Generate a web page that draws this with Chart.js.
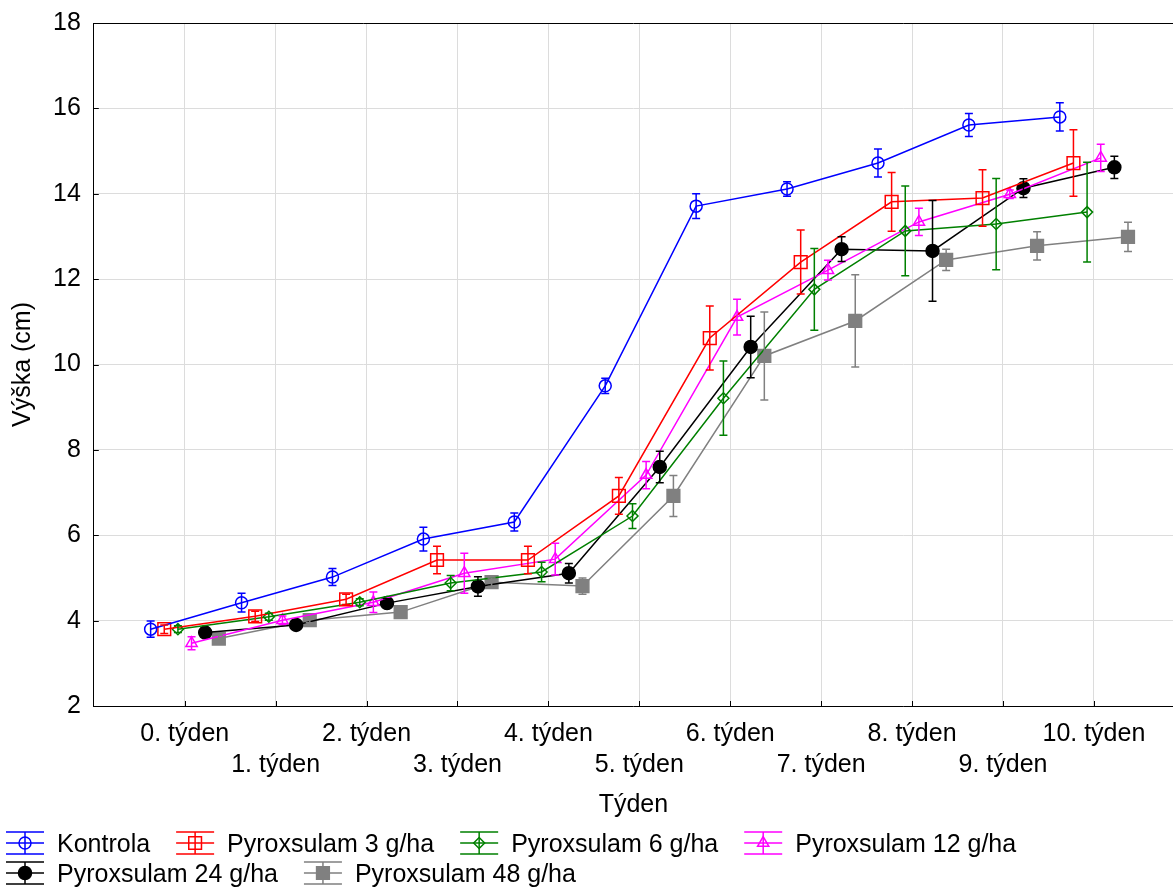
<!DOCTYPE html>
<html>
<head>
<meta charset="utf-8">
<title>Výška rostlin</title>
<script src="https://cdn.jsdelivr.net/npm/chart.js@4.4.1/dist/chart.umd.min.js"></script>
<style>
  html, body { margin: 0; padding: 0; background: #fff; }
  #wrap { width: 1173px; height: 887px; }
</style>
</head>
<body>
<div id="wrap"><canvas id="growthChart"></canvas></div>
<script>
// Weeks (x axis)
const weeks = [0, 1, 2, 3, 4, 5, 6, 7, 8, 9, 10];
const weekLabels = ['0. týden', '1. týden', '2. týden', '3. týden', '4. týden', '5. týden',
                    '6. týden', '7. týden', '8. týden', '9. týden', '10. týden'];
const yTicks = [2, 4, 6, 8, 10, 12, 14, 16, 18];

const seriesNames = ['Kontrola', 'Pyroxsulam 3 g/ha', 'Pyroxsulam 6 g/ha',
                     'Pyroxsulam 12 g/ha', 'Pyroxsulam 24 g/ha', 'Pyroxsulam 48 g/ha'];

// Mean height (cm)
const kontrola = [3.80, 4.42, 5.02, 5.91, 6.31, 9.50, 13.71, 14.11, 14.72, 15.61, 15.80];
const pyr3     = [3.80, 4.10, 4.50, 5.42, 5.42, 6.92, 10.62, 12.40, 13.81, 13.90, 14.72];
const pyr6     = [3.80, 4.09, 4.43, 4.88, 5.14, 6.45, 9.21, 11.76, 13.13, 13.29, 13.57];
const pyr12    = [3.47, 4.01, 4.43, 5.11, 5.44, 7.41, 11.11, 12.21, 13.34, 13.99, 14.84];
const pyr24    = [3.72, 3.90, 4.41, 4.80, 5.11, 7.60, 10.41, 12.70, 12.66, 14.13, 14.62];
const pyr48    = [3.58, 4.01, 4.20, 4.90, 4.81, 6.92, 10.20, 11.02, 12.45, 12.78, 12.99];

// Error bar half-lengths (cm)
const kontrolaErr = [0.19, 0.22, 0.20, 0.28, 0.21, 0.18, 0.29, 0.17, 0.33, 0.27, 0.33];
const pyr3Err     = [0.10, 0.12, 0.12, 0.32, 0.32, 0.43, 0.75, 0.75, 0.69, 0.66, 0.78];
const pyr6Err     = [0.08, 0.08, 0.08, 0.18, 0.23, 0.29, 0.87, 0.96, 1.05, 1.07, 1.17];
const pyr12Err    = [0.15, 0.10, 0.24, 0.47, 0.37, 0.32, 0.42, 0.23, 0.32, 0.10, 0.32];
const pyr24Err    = [0.08, 0.05, 0.10, 0.23, 0.23, 0.37, 0.72, 0.29, 1.18, 0.22, 0.26];
const pyr48Err    = [0.08, 0.06, 0.08, 0.10, 0.19, 0.48, 1.03, 1.08, 0.25, 0.33, 0.34];

const series = [kontrola, pyr3, pyr6, pyr12, pyr24, pyr48];
const errors = [kontrolaErr, pyr3Err, pyr6Err, pyr12Err, pyr24Err, pyr48Err];

// Styling
const FONT = "'Liberation Sans', Arial, sans-serif";
const dodge = [-0.375, -0.225, -0.075, 0.075, 0.225, 0.375];
const styles = [
    { color: '#0000ff', marker: 'circle',   radius: 6,   filled: false },
    { color: '#ff0000', marker: 'rect',     radius: 9,   filled: false },
    { color: '#008000', marker: 'rectRot',  radius: 5.5, filled: false },
    { color: '#ff00ff', marker: 'triangle', radius: 6.5, filled: false },
    { color: '#000000', marker: 'circle',   radius: 6.5, filled: true },
    { color: '#808080', marker: 'rect',     radius: 9,   filled: true }
];

Chart.defaults.font.family = FONT;
Chart.defaults.font.size = 25;
Chart.defaults.color = '#000';

// Vertical error bars with caps, drawn over the lines
const errorBars = {
    id: 'errorBars',
    afterDatasetsDraw(chart) {
        const { ctx, scales: { y } } = chart;
        ctx.save();
        ctx.lineWidth = 1.5;
        chart.data.datasets.forEach((ds, k) => {
            const meta = chart.getDatasetMeta(k);
            ctx.strokeStyle = ds.borderColor;
            meta.data.forEach((pt, i) => {
                const v = ds.data[i].y;
                const e = ds.err[i];
                const top = y.getPixelForValue(v + e);
                const bot = y.getPixelForValue(v - e);
                ctx.beginPath();
                ctx.moveTo(pt.x, top); ctx.lineTo(pt.x, bot);
                ctx.moveTo(pt.x - 4, top); ctx.lineTo(pt.x + 4, top);
                ctx.moveTo(pt.x - 4, bot); ctx.lineTo(pt.x + 4, bot);
                ctx.stroke();
            });
        });
        ctx.restore();
    }
};

// Short tick marks pointing into the plot
const innerTicks = {
    id: 'innerTicks',
    beforeDatasetsDraw(chart) {
        const { ctx, chartArea: a, scales: { x, y } } = chart;
        ctx.save();
        ctx.strokeStyle = '#000';
        ctx.lineWidth = 1;
        ctx.beginPath();
        x.ticks.forEach(t => {
            const px = Math.round(x.getPixelForValue(t.value)) + 0.5;
            ctx.moveTo(px, a.bottom); ctx.lineTo(px, a.bottom - 5);
        });
        y.ticks.forEach(t => {
            const py = Math.round(y.getPixelForValue(t.value)) + 0.5;
            ctx.moveTo(a.left, py); ctx.lineTo(a.left + 5, py);
        });
        ctx.stroke();
        ctx.restore();
    }
};

// Legend below the axis title, icons look like a marker with error bar
function drawLegendIcon(ctx, ds, x, cy) {
    const cx = x + 19;
    ctx.strokeStyle = ds.borderColor;
    ctx.lineWidth = 1.5;
    ctx.beginPath();
    [-11, 0, 11].forEach(d => {
        ctx.moveTo(x, cy + d);
        ctx.lineTo(x + 38, cy + d);
    });
    ctx.moveTo(cx, cy - 11);
    ctx.lineTo(cx, cy + 11);
    ctx.stroke();
    ctx.fillStyle = ds.backgroundColor;
    Chart.helpers.drawPoint(ctx, {
        pointStyle: ds.pointStyle, radius: ds.pointRadius, borderWidth: 1.5, rotation: 0
    }, cx, cy);
}

const bottomLegend = {
    id: 'bottomLegend',
    afterDraw(chart) {
        const ctx = chart.ctx;
        ctx.save();
        ctx.font = `25px ${FONT}`;
        ctx.textBaseline = 'middle';
        let x = 6;
        let cy = 843;
        chart.data.datasets.forEach(ds => {
            const w = 51 + ctx.measureText(ds.label).width;
            if (x + w > chart.width) {
                x = 6;
                cy += 30;
            }
            drawLegendIcon(ctx, ds, x, cy);
            ctx.fillStyle = '#000';
            ctx.fillText(ds.label, x + 51, cy + 2);
            x += w + 26;
        });
        ctx.restore();
    }
};

const datasets = series.map((vals, k) => ({
    label: seriesNames[k],
    data: weeks.map((w, i) => ({ x: w + dodge[k], y: vals[i] })),
    err: errors[k],
    borderColor: styles[k].color,
    backgroundColor: styles[k].filled ? styles[k].color : 'rgba(0,0,0,0)',
    borderWidth: 1.5,
    pointStyle: styles[k].marker,
    pointRadius: styles[k].radius,
    pointBorderWidth: 1.5,
    fill: false,
    tension: 0
}));

const ctx = document.getElementById('growthChart').getContext('2d');
new Chart(ctx, {
    type: 'line',
    data: { datasets },
    options: {
        responsive: true,
        maintainAspectRatio: false,
        animation: false,
        events: [],
        layout: {
            autoPadding: false,
            padding: { left: 4, top: 23, right: 0, bottom: 63 }
        },
        plugins: {
            legend: { display: false },
            tooltip: { enabled: false }
        },
        scales: {
            x: {
                type: 'linear',
                min: -1,
                max: 10.87,
                afterBuildTicks: axis => { axis.ticks = weeks.map(v => ({ value: v })); },
                grid: { color: '#dcdcdc', drawTicks: false },
                border: { color: '#000', width: 1 },
                ticks: {
                    autoSkip: false,
                    maxRotation: 0,
                    minRotation: 0,
                    padding: 13,
                    font: { size: 25, lineHeight: 1.24 },
                    callback: v => (v % 2 === 1 ? ['', weekLabels[v]] : weekLabels[v])
                },
                title: {
                    display: true,
                    text: 'Týden',
                    font: { size: 25 },
                    padding: { top: -4, bottom: 4 }
                }
            },
            y: {
                min: 2,
                max: 18,
                afterBuildTicks: axis => { axis.ticks = yTicks.map(v => ({ value: v })); },
                grid: {
                    color: c => (c.tick && c.tick.value === 18 ? '#000' : '#dcdcdc'),
                    drawTicks: false
                },
                border: { color: '#000', width: 1 },
                ticks: { padding: 13, font: { size: 25, lineHeight: 0.8 } },
                title: {
                    display: true,
                    text: 'Výška (cm)',
                    font: { size: 25 },
                    padding: { top: 4, bottom: 2 }
                }
            }
        }
    },
    plugins: [innerTicks, errorBars, bottomLegend]
});
</script>
</body>
</html>
